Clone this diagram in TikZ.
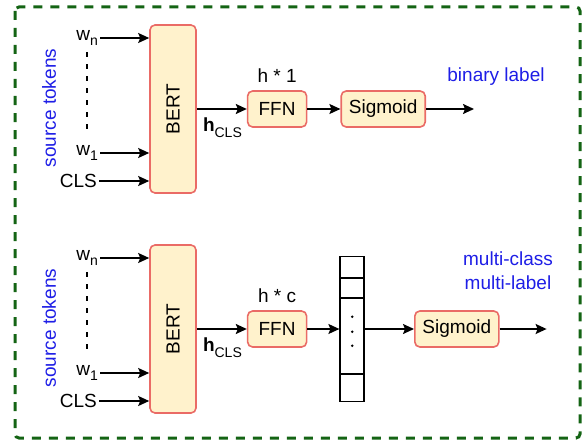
\documentclass[tikz,border=0pt]{standalone}
\usepackage{fontspec}
\setmainfont{Liberation Sans}
\usepackage{xcolor}
\usetikzlibrary{arrows.meta,positioning,calc}
\definecolor{boxedge}{HTML}{EA6B66}
\definecolor{boxfill}{HTML}{FFF2CC}
\definecolor{frameGreen}{RGB}{20,100,20}
\definecolor{labelblue}{RGB}{30,30,230}
\newcommand{\lowtext}[1]{\raisebox{-0.3em}{\fontsize{14}{15}\selectfont #1}}

\begin{document}
\begin{tikzpicture}[
  x=1pt, y=-1pt,
  font=\fontsize{19}{24}\selectfont,
  box/.style={draw=boxedge, line width=1.6pt, rounded corners=5pt, fill=boxfill, minimum height=36pt, inner sep=0pt, align=center},
  token/.style={anchor=east, inner sep=2pt},
  note/.style={text=labelblue, align=center},
  gapline/.style={line width=1.6pt, dash pattern=on 5pt off 7pt},
  arrow/.style={-{Stealth[length=11pt,width=10pt,inset=2pt]}, line width=1.6pt}
]
\useasboundingbox (0,0) rectangle (585,441);
\draw[frameGreen, line width=3pt, dash pattern=on 9pt off 8pt, rounded corners=4pt] (15,7) rectangle (580,438);

% binary label branch
\node[box, minimum width=46pt, minimum height=168pt] (bertA) at (173,109) {\rotatebox{90}{BERT}};
\node[box, minimum width=59pt, right=50pt of bertA] (ffnA) {FFN};
\node[box, minimum width=84pt, right=33pt of ffnA] (sigA) {Sigmoid};
\coordinate[right=48pt of sigA] (outA);
\node[above=6pt of ffnA, inner sep=1pt] (dimA) {h * 1};
\node[anchor=north west, inner sep=1pt] (hA) at ([xshift=5pt,yshift=-8pt]bertA.east) {\textbf{h}\lowtext{CLS}};
\node[token] (wnA) at (100,38) {w\lowtext{n}};
\node[token] (w1A) at (100,153) {w\lowtext{1}};
\node[token] (clsA) at (99,181) {CLS};
\node[note, rotate=90] (srcA) at (49,108) {source tokens};
\node[note] (binA) at (496,77) {binary label};
\draw[gapline] ([yshift=-4pt]wnA.south) -- ([yshift=8pt]w1A.north);
\draw[arrow] (wnA.east) -- (wnA.east -| bertA.west);
\draw[arrow] (w1A.east) -- (w1A.east -| bertA.west);
\draw[arrow] (clsA.east) -- (clsA.east -| bertA.west);
\draw[arrow] (bertA) -- (ffnA);
\draw[arrow] (ffnA) -- (sigA);
\draw[arrow] (sigA) -- (outA);

% multi-label branch
\node[box, minimum width=46pt, minimum height=168pt] (bertB) at (173,329) {\rotatebox{90}{BERT}};
\node[box, minimum width=59pt, right=50pt of bertB] (ffnB) {FFN};
\node[draw, line width=1.6pt, minimum width=24pt, minimum height=145pt, inner sep=0pt, right=32pt of ffnB] (vecB) {};
\node[box, minimum width=84pt, right=49pt of vecB] (sigB) {Sigmoid};
\coordinate[right=47pt of sigB] (outB);
\node[above=6pt of ffnB, inner sep=1pt] (dimB) {h * c};
\node[anchor=north west, inner sep=1pt] (hB) at ([xshift=5pt,yshift=-8pt]bertB.east) {\textbf{h}\lowtext{CLS}};
\node[token] (wnB) at (100,258) {w\lowtext{n}};
\node[token] (w1B) at (100,373) {w\lowtext{1}};
\node[token] (clsB) at (99,401) {CLS};
\node[note, rotate=90] (srcB) at (49,328) {source tokens};
\node[note] (multiB) at (508,271) {multi-class\\multi-label};
\foreach \off in {22,42,118}
  \draw[line width=1.6pt] ($(vecB.north west)+(0,\off)$) -- ($(vecB.north east)+(0,\off)$);
\foreach \off in {61,76,90}
  \fill ($(vecB.north)+(0,\off)$) circle (1.4pt);
\draw[gapline] ([yshift=-4pt]wnB.south) -- ([yshift=8pt]w1B.north);
\draw[arrow] (wnB.east) -- (wnB.east -| bertB.west);
\draw[arrow] (w1B.east) -- (w1B.east -| bertB.west);
\draw[arrow] (clsB.east) -- (clsB.east -| bertB.west);
\draw[arrow] (bertB) -- (ffnB);
\draw[arrow] (ffnB) -- (vecB);
\draw[arrow] (vecB) -- (sigB);
\draw[arrow] (sigB) -- (outB);
\end{tikzpicture}
\end{document}
